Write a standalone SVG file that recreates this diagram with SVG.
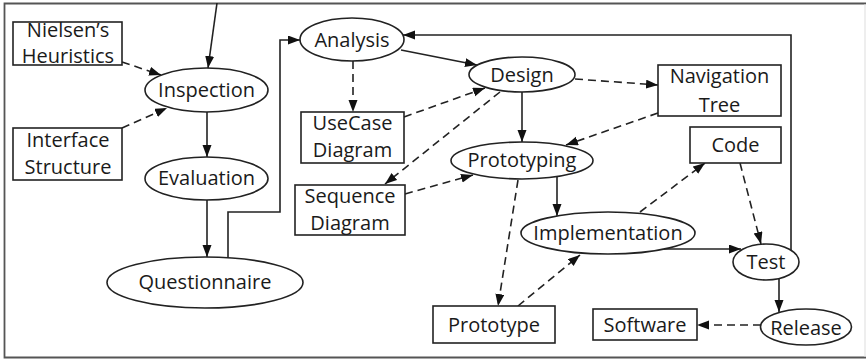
<svg xmlns="http://www.w3.org/2000/svg" width="868" height="361" viewBox="0 0 868 361">
<style>
.n{fill:#fff;stroke:#222;stroke-width:1.6}
.t{font-family:"Open Sans","Liberation Sans",sans-serif;font-size:20px;fill:#1a1a1a;text-anchor:middle}
.c{fill:none;stroke:#222;stroke-width:1.6;marker-end:url(#ah)}
.d{stroke-dasharray:8 5}
.f{fill:none;stroke:#555;stroke-width:1.8}
</style>
<defs>
<marker id="ah" markerUnits="userSpaceOnUse" markerWidth="13" markerHeight="10" refX="12" refY="4.5" orient="auto">
<path d="M0,0 L12,4.5 L0,9 z" fill="#111"/>
</marker>
</defs>
<rect x="0" y="0" width="868" height="361" fill="#fff"/>
<g id="frame">
<path class="f" d="M866,3.5 H4.5 V357.5 H866"/>
<path d="M865,4 V357" stroke="#ddd" stroke-width="1"/>
</g>
<g id="connectors">
<path class="c" d="M217,3 L208,68"/>
<path class="c d" d="M122,62 L161,75"/>
<path class="c d" d="M122,128 L167,108"/>
<path class="c" d="M207,112 V157"/>
<path class="c" d="M207,200 V257"/>
<path class="c" d="M228,258 V212 H280 V40 H300"/>
<path class="c" d="M791,250 V35 H403"/>
<path class="c" d="M401,50 L477,65"/>
<path class="c d" d="M353,61 V112"/>
<path class="c d" d="M404,117 L485,88"/>
<path class="c d" d="M500,92 L385,184"/>
<path class="c d" d="M405,194 L473,175"/>
<path class="c" d="M522,92 V142"/>
<path class="c d" d="M575,79 L658,85"/>
<path class="c d" d="M658,113 L566,145"/>
<path class="c" d="M557,177 V216"/>
<path class="c d" d="M518,180 L498,306"/>
<path class="c d" d="M518,306 L580,255"/>
<path class="c d" d="M640,212 L705,163"/>
<path class="c d" d="M740,163 L761,244"/>
<path class="c" d="M664,249 H741"/>
<path class="c" d="M779,279 V312"/>
<path class="c d" d="M761,325 H697"/>
</g>
<g id="nielsens-heuristics"><rect class="n" x="13" y="22" width="109" height="43"/><text class="t" x="68" y="37">Nielsen’s</text><text class="t" x="68" y="63">Heuristics</text></g>
<g id="interface-structure"><rect class="n" x="13" y="128" width="109" height="52"/><text class="t" x="68" y="147">Interface</text><text class="t" x="68" y="174">Structure</text></g>
<g id="inspection"><ellipse class="n" cx="206.5" cy="90" rx="61.5" ry="22"/><text class="t" x="206.5" y="97">Inspection</text></g>
<g id="evaluation"><ellipse class="n" cx="206.5" cy="178.5" rx="61.5" ry="21.5"/><text class="t" x="206.5" y="185">Evaluation</text></g>
<g id="questionnaire"><ellipse class="n" cx="205" cy="282.5" rx="98" ry="25.5"/><text class="t" x="205" y="289">Questionnaire</text></g>
<g id="analysis"><ellipse class="n" cx="352" cy="39.5" rx="52" ry="21.5"/><text class="t" x="352" y="46.5">Analysis</text></g>
<g id="design"><ellipse class="n" cx="522" cy="74.5" rx="53" ry="17.5"/><text class="t" x="522" y="81.5">Design</text></g>
<g id="usecase-diagram"><rect class="n" x="301" y="112" width="103" height="51"/><text class="t" x="352.5" y="130">UseCase</text><text class="t" x="352.5" y="157">Diagram</text></g>
<g id="sequence-diagram"><rect class="n" x="295" y="185" width="110" height="50"/><text class="t" x="350" y="203">Sequence</text><text class="t" x="350" y="230">Diagram</text></g>
<g id="navigation-tree"><rect class="n" x="658" y="65" width="123" height="51"/><text class="t" x="719.5" y="83">Navigation</text><text class="t" x="719.5" y="112">Tree</text></g>
<g id="prototyping"><ellipse class="n" cx="522" cy="160.5" rx="71" ry="18.5"/><text class="t" x="522" y="167">Prototyping</text></g>
<g id="code"><rect class="n" x="690" y="127" width="91" height="36"/><text class="t" x="735.5" y="152">Code</text></g>
<g id="implementation"><ellipse class="n" cx="608" cy="233" rx="87" ry="21"/><text class="t" x="608" y="240">Implementation</text></g>
<g id="test"><ellipse class="n" cx="766" cy="262" rx="33" ry="18"/><text class="t" x="766" y="269">Test</text></g>
<g id="prototype"><rect class="n" x="433" y="306" width="122" height="37"/><text class="t" x="494" y="331.5">Prototype</text></g>
<g id="software"><rect class="n" x="593" y="309" width="104" height="31"/><text class="t" x="645" y="331.5">Software</text></g>
<g id="release"><ellipse class="n" cx="806" cy="327" rx="45.5" ry="18"/><text class="t" x="806" y="334.5">Release</text></g>
</svg>
